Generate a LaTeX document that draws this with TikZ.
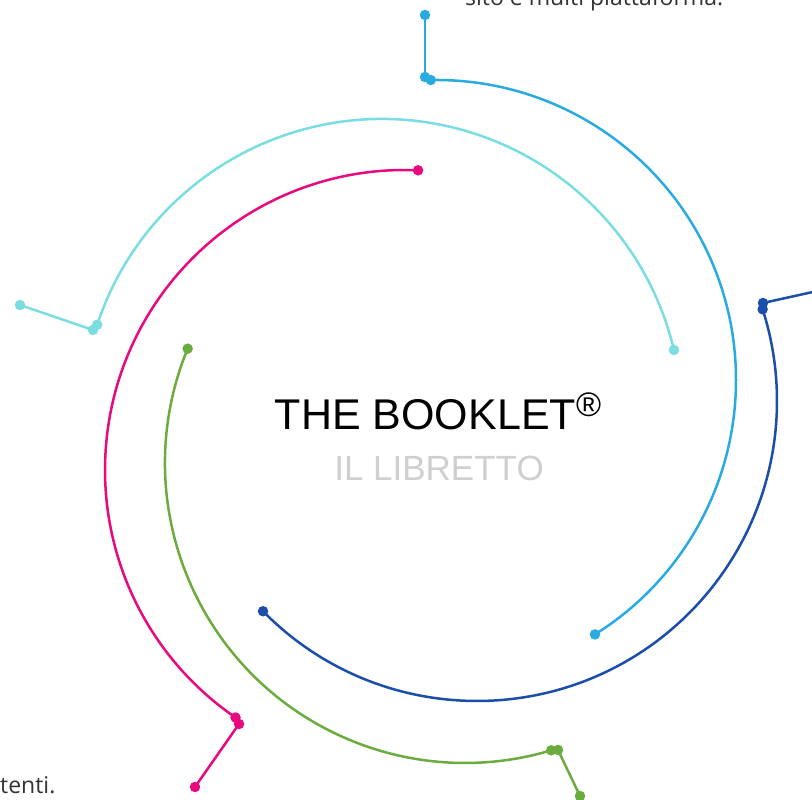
\documentclass[tikz,border=0pt]{standalone}
\usepackage{fontspec}
\setmainfont{Open Sans}
\newfontfamily\titlefont{Liberation Sans}
\definecolor{sky}{HTML}{29ABE2}
\definecolor{aqua}{HTML}{7ADDE2}
\definecolor{rose}{HTML}{E8097F}
\definecolor{leaf}{HTML}{6CAC3E}
\definecolor{navy}{HTML}{1A4EAA}
\definecolor{bodytext}{HTML}{333333}
\definecolor{subgray}{HTML}{CFCFCF}
\begin{document}
\begin{tikzpicture}[x=1pt,y=1pt,
  dot/.style={circle,inner sep=0pt,minimum size=10.5pt,fill=#1},
  arcline/.style={line width=2.5pt,draw=#1}]
\useasboundingbox (0,0) rectangle (812,800);
\clip (0,0) rectangle (812,800);
\fill[white] (0,0) rectangle (812,800);

% sky blue
\coordinate (c1) at (436,420);
\path (c1) ++(91:300pt) node[dot=sky] (s1) {};
\path (c1) ++(-58:300pt) node[dot=sky] (e1) {};
\node[dot=sky] (l1a) at (425,723) {};
\node[dot=sky] (l1b) at (425,785) {};
\draw[arcline=sky] (s1.center) arc[start angle=91,end angle=-58,radius=300pt];
\draw[arcline=sky] (l1a.center) -- (l1b.center);

% aqua
\coordinate (c2) at (382,381);
\path (c2) ++(161.7:300pt) node[dot=aqua] (s2) {};
\path (c2) ++(13.3:300pt) node[dot=aqua] (e2) {};
\node[dot=aqua] (l2a) at (93,470) {};
\node[dot=aqua] (l2b) at (20,495) {};
\draw[arcline=aqua] (s2.center) arc[start angle=161.7,end angle=13.3,radius=300pt];
\draw[arcline=aqua] (l2a.center) -- (l2b.center);

% rose
\coordinate (c3) at (405,330);
\path (c3) ++(87.5:300pt) node[dot=rose] (s3) {};
\path (c3) ++(235.6:300pt) node[dot=rose] (e3) {};
\node[dot=rose] (l3a) at (239,76) {};
\node[dot=rose] (l3b) at (195,13) {};
\draw[arcline=rose] (s3.center) arc[start angle=87.5,end angle=235.6,radius=300pt];
\draw[arcline=rose] (l3a.center) -- (l3b.center);

% leaf
\coordinate (c4) at (465,337);
\path (c4) ++(157.6:300pt) node[dot=leaf] (s4) {};
\path (c4) ++(286.7:300pt) node[dot=leaf] (e4) {};
\node[dot=leaf] (l4a) at (558,50) {};
\node[dot=leaf] (l4b) at (580,4) {};
\draw[arcline=leaf] (s4.center) arc[start angle=157.6,end angle=286.7,radius=300pt];
\draw[arcline=leaf] (l4a.center) -- (l4b.center);

% navy
\coordinate (c5) at (477,399);
\path (c5) ++(224.5:300pt) node[dot=navy] (s5) {};
\path (c5) ++(377.8:300pt) node[dot=navy] (e5) {};
\node[dot=navy] (l5a) at (763,497) {};
\coordinate (l5b) at (840,514);
\draw[arcline=navy] (s5.center) arc[start angle=224.5,end angle=377.8,radius=300pt];
\draw[arcline=navy] (l5a.center) -- (l5b);

% texts
\node[anchor=base west,inner sep=0pt,text=bodytext,font=\fontsize{23}{23}\selectfont] (t1) at (465,794) {sito e multi piattaforma.};
\node[anchor=base west,inner sep=0pt,text=bodytext,font=\fontsize{23}{23}\selectfont] (t2) at (0,6) {tenti.};
\node[anchor=base,inner sep=0pt,font=\titlefont\fontsize{43}{43}\selectfont] (title) at (438,370) {THE BOOKLET\raisebox{13pt}{\fontsize{34}{34}\selectfont ®}};
\node[anchor=base,inner sep=0pt,text=subgray,font=\titlefont\fontsize{35}{35}\selectfont] (sub) at (439,319) {IL LIBRETTO};
\end{tikzpicture}
\end{document}
